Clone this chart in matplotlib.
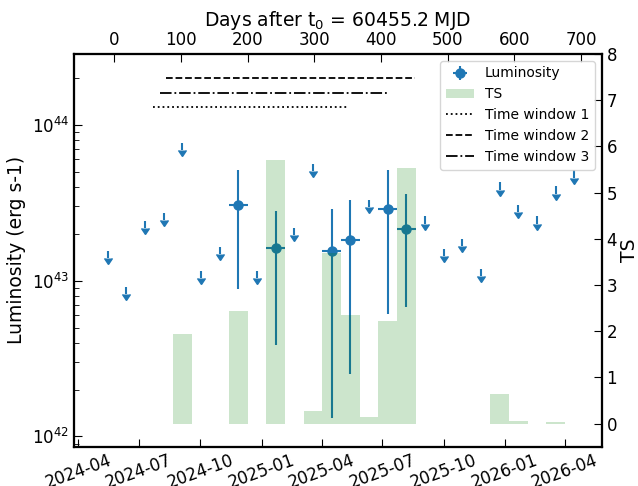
import numpy as np
import matplotlib
matplotlib.use("Agg")
import matplotlib.pyplot as plt
import matplotlib.dates as mdates
from datetime import datetime

# t0 = MJD 60455.2
t0 = datetime(2024, 5, 25, 4, 48)

# upper limits: days after t0, luminosity (erg/s)
ul_days = [-10, 18, 46, 74, 102, 130, 158, 214, 270, 298,
           382, 466, 494, 522, 550, 578, 606, 634, 662, 690]
ul_lum = [1.56e43, 9.1e42, 2.42e43, 2.71e43, 7.64e43, 1.15e43, 1.64e43, 1.16e43, 2.18e43, 5.6e43,
          3.31e43, 2.58e43, 1.6e43, 1.86e43, 1.19e43, 4.27e43, 3.07e43, 2.58e43, 4.02e43, 5.1e43]

# detections
det_days = [186, 242, 326, 354, 410, 438]
det_lum = [3.07e43, 1.63e43, 1.54e43, 1.81e43, 2.89e43, 2.15e43]
det_lo = [8.83e42, 3.87e42, 1.32e42, 2.51e42, 6.1e42, 6.73e42]
det_hi = [5.14e43, 2.81e43, 2.89e43, 3.31e43, 5.14e43, 3.59e43]

# TS per bin
ts_days = [102, 186, 242, 298, 326, 354, 382, 410, 438, 578, 606, 662]
ts_vals = [1.93, 2.43, 5.71, 0.27, 3.70, 2.34, 0.14, 2.22, 5.54, 0.65, 0.05, 0.03]

# time windows (days after t0)
win_start = [58, 77, 69]
win_stop = [349, 451, 410]
win_level = [1.3e44, 2e44, 1.6e44]
win_style = [':', '--', '-.']
win_label = ['Time window 1', 'Time window 2', 'Time window 3']

t0n = mdates.date2num(t0)
def todate(d):
    return t0n + np.asarray(d, dtype=float)

plt.rcParams['axes.linewidth'] = 1.5

fig = plt.figure(figsize=(6.38, 4.86), dpi=100)
ax1 = fig.add_axes([0.1165, 0.081, 0.8265, 0.808])

det_lum = np.array(det_lum)
yerr = [det_lum - np.array(det_lo), np.array(det_hi) - det_lum]
eb = ax1.errorbar(todate(det_days), det_lum, xerr=14, yerr=yerr, fmt='o', color='C0',
                  ms=6.5, elinewidth=1.5, label='Luminosity')
ul_lum = np.array(ul_lum)
ax1.errorbar(todate(ul_days), ul_lum, yerr=0.1 * ul_lum, uplims=True, fmt='none',
             ecolor='C0', elinewidth=1.5)

lines = []
for a, b, lev, ls, lab in zip(win_start, win_stop, win_level, win_style, win_label):
    l, = ax1.plot(todate([a, b]), [lev, lev], ls=ls, color='k', lw=1.3, label=lab)
    lines.append(l)

ax1.set_yscale('log')
ax1.set_ylim(8.6e41, 2.85e44)
ax1.set_xlim(t0n - 60, t0n + 731)
ax1.xaxis.set_major_locator(mdates.MonthLocator(bymonth=[1, 4, 7, 10]))
ax1.xaxis.set_major_formatter(mdates.DateFormatter('%Y-%m'))
ax1.set_ylabel('Luminosity (erg s-1)', fontsize=13.5)
ax1.tick_params(which='both', direction='in', labelsize=12)
ax1.tick_params(which='major', length=6)
ax1.tick_params(which='minor', length=3.5)
plt.setp(ax1.get_xticklabels(), rotation=20)

ax2 = ax1.twinx()
bars = ax2.bar(todate(ts_days), ts_vals, width=28, color='green', alpha=0.2, label='TS')
ax2.set_ylim(-0.5, 8)
ax2.set_ylabel('TS', fontsize=13.5, labelpad=2)
ax2.tick_params(direction='in', labelsize=12, length=6)

ax3 = ax1.twiny()
ax3.set_xlim(-60, 731)
ax3.set_xlabel('Days after t$_0$ = 60455.2 MJD', fontsize=13.5)
ax3.tick_params(direction='in', labelsize=12, length=6)

ax3.legend([eb, bars, lines[0], lines[1], lines[2]],
           ['Luminosity', 'TS'] + win_label, loc='upper right', fontsize=10)

fig.savefig('out.png', dpi=100)
